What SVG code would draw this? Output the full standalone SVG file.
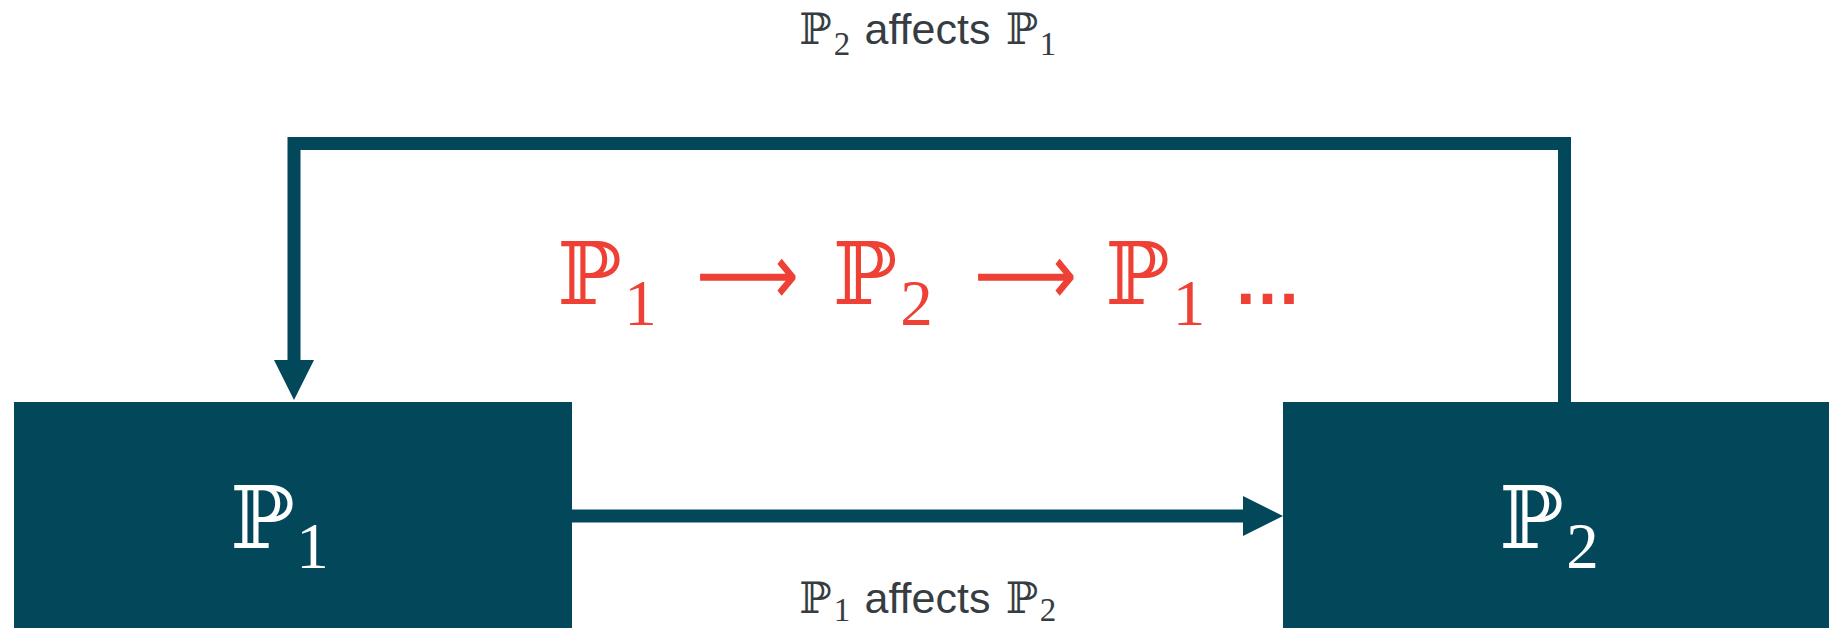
<svg xmlns="http://www.w3.org/2000/svg" width="1829" height="628" viewBox="0 0 1829 628">
<style>
.box{fill:#03475A}
.edge{fill:none;stroke:#03475A;stroke-width:13}
.bb{font-family:"DejaVu Serif","DejaVu Sans",serif}
.dg{font-family:"Liberation Serif","DejaVu Serif",serif}
.lbl{fill:#363D42}
.red{fill:#EE4034}
.wh{fill:#FFFFFF}
</style>
<defs>
<marker id="ah" markerUnits="userSpaceOnUse" markerWidth="42" markerHeight="42" refX="0" refY="20" orient="auto" overflow="visible">
<path d="M0,0 L40,20 L0,40 Z" fill="#03475A"/>
</marker>
</defs>
<rect width="1829" height="628" fill="#FFFFFF"/>
<g id="connectors">
<path class="edge" d="M1564.5,402 V143.5 H294 V360" marker-end="url(#ah)"/>
<path class="edge" d="M572,516 H1243" marker-end="url(#ah)"/>
</g>
<g id="node-p1">
<rect class="box" x="14" y="402" width="558" height="226"/>
<text class="bb wh" x="262.5" y="548" font-size="86" text-anchor="middle">ℙ</text>
<text class="dg wh" x="312.5" y="568" font-size="65" text-anchor="middle">1</text>
</g>
<g id="node-p2">
<rect class="box" x="1283" y="402" width="546" height="226"/>
<text class="bb wh" x="1531.5" y="548" font-size="86" text-anchor="middle">ℙ</text>
<text class="dg wh" x="1582.5" y="568" font-size="65" text-anchor="middle">2</text>
</g>
<g id="label-top">
<text class="bb lbl" x="815.5" y="44" font-size="43" text-anchor="middle">ℙ</text>
<text class="dg lbl" x="842" y="55" font-size="33" text-anchor="middle">2</text>
<text class="lbl" x="864.5" y="44" font-size="43" font-family="Liberation Sans, Arial, sans-serif">affects</text>
<text class="bb lbl" x="1022" y="44" font-size="43" text-anchor="middle">ℙ</text>
<text class="dg lbl" x="1048" y="55" font-size="33" text-anchor="middle">1</text>
</g>
<g id="label-bottom">
<text class="bb lbl" x="815.5" y="613" font-size="43" text-anchor="middle">ℙ</text>
<text class="dg lbl" x="842" y="621" font-size="33" text-anchor="middle">1</text>
<text class="lbl" x="864.5" y="613" font-size="43" font-family="Liberation Sans, Arial, sans-serif">affects</text>
<text class="bb lbl" x="1022" y="613" font-size="43" text-anchor="middle">ℙ</text>
<text class="dg lbl" x="1048" y="621" font-size="33" text-anchor="middle">2</text>
</g>
<g id="sequence">
<text class="bb red" x="589.5" y="304" font-size="86" text-anchor="middle">ℙ</text>
<text class="dg red" x="640.5" y="325" font-size="65" text-anchor="middle">1</text>
<text class="red" x="696" y="304" font-size="86" font-family="DejaVu Sans, sans-serif" textLength="103" lengthAdjust="spacingAndGlyphs">⟶</text>
<text class="bb red" x="865" y="304" font-size="86" text-anchor="middle">ℙ</text>
<text class="dg red" x="916.5" y="325" font-size="65" text-anchor="middle">2</text>
<text class="red" x="974" y="304" font-size="86" font-family="DejaVu Sans, sans-serif" textLength="103" lengthAdjust="spacingAndGlyphs">⟶</text>
<text class="bb red" x="1137.5" y="304" font-size="86" text-anchor="middle">ℙ</text>
<text class="dg red" x="1189" y="325" font-size="65" text-anchor="middle">1</text>
<text class="red" x="1267.5" y="304" font-size="68" font-weight="bold" font-family="Liberation Sans, Arial, sans-serif" text-anchor="middle">…</text>
</g>
</svg>
